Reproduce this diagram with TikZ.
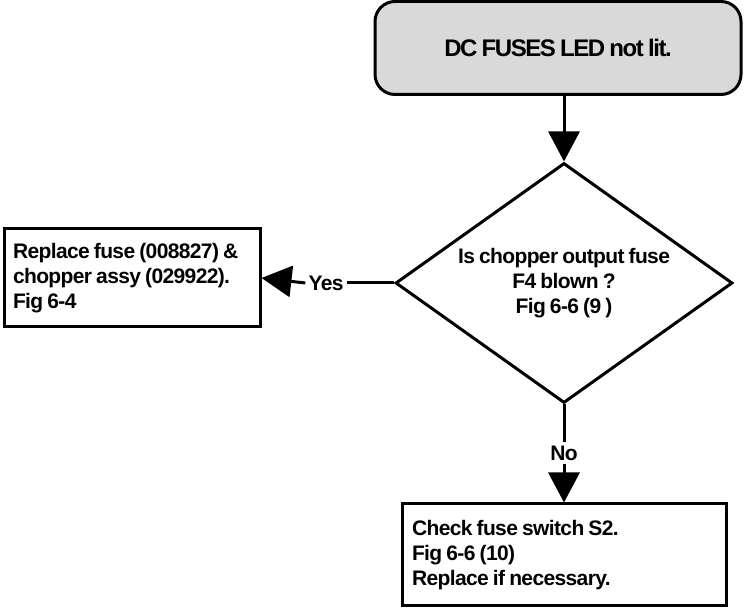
\documentclass[tikz,border=0pt]{standalone}
\usepackage{fontspec}
\setmainfont[WordSpace=0.8]{Liberation Sans}
\usetikzlibrary{shapes.geometric,arrows.meta}
\begin{document}
\begin{tikzpicture}[x=1pt,y=1pt,
  every node/.style={font=\bfseries\fontsize{21}{25}\selectfont\addfontfeature{LetterSpace=-3}},
  outline/.style={draw=black,line width=3pt},
  titlebox/.style={outline,rounded corners=20pt,fill=gray!30,minimum width=366pt,minimum height=93pt,font=\bfseries\fontsize{24}{28}\selectfont\addfontfeature{LetterSpace=-6}},
  actbox/.style={outline,fill=white,align=left,inner xsep=8pt,anchor=center},
  decbox/.style={outline,diamond,aspect=1.4,minimum width=337pt,minimum height=240pt,inner sep=0pt,align=center},
  lbl/.style={inner sep=3pt},
  conn/.style={line width=3pt},
  flow/.style={conn,-{Triangle[length=30pt,width=31pt]}}]
\useasboundingbox (0,0) rectangle (752,612);
\node[titlebox] (top) at (558,564) {DC FUSES LED not lit.};
\node[decbox] (dec) at (564,329) {Is chopper output fuse\\F4 blown ?\\Fig 6-6 (9 )};
\node[actbox,minimum width=256pt,minimum height=98pt] (left) at (132,334) {Replace fuse (008827) \&\\chopper assy (029922).\\\makebox[238pt][l]{Fig 6-4}};
\node[actbox,minimum width=324pt,minimum height=102pt] (bot) at (564,57) {Check fuse switch S2.\\Fig 6-6 (10)\\\makebox[304pt][l]{Replace if necessary.}};
\node[lbl] (yes) at (326,329) {Yes};
\node[lbl] (no) at (564,159) {No};
\draw[flow] (top.south -| dec.north) -- (dec.north);
\draw[conn] (dec.west) -- (yes.east);
\draw[flow] (yes.west) -- (left.east);
\draw[conn] (dec.south) -- (no.north);
\draw[flow] (no.south) -- (bot.north);
\end{tikzpicture}
\end{document}
